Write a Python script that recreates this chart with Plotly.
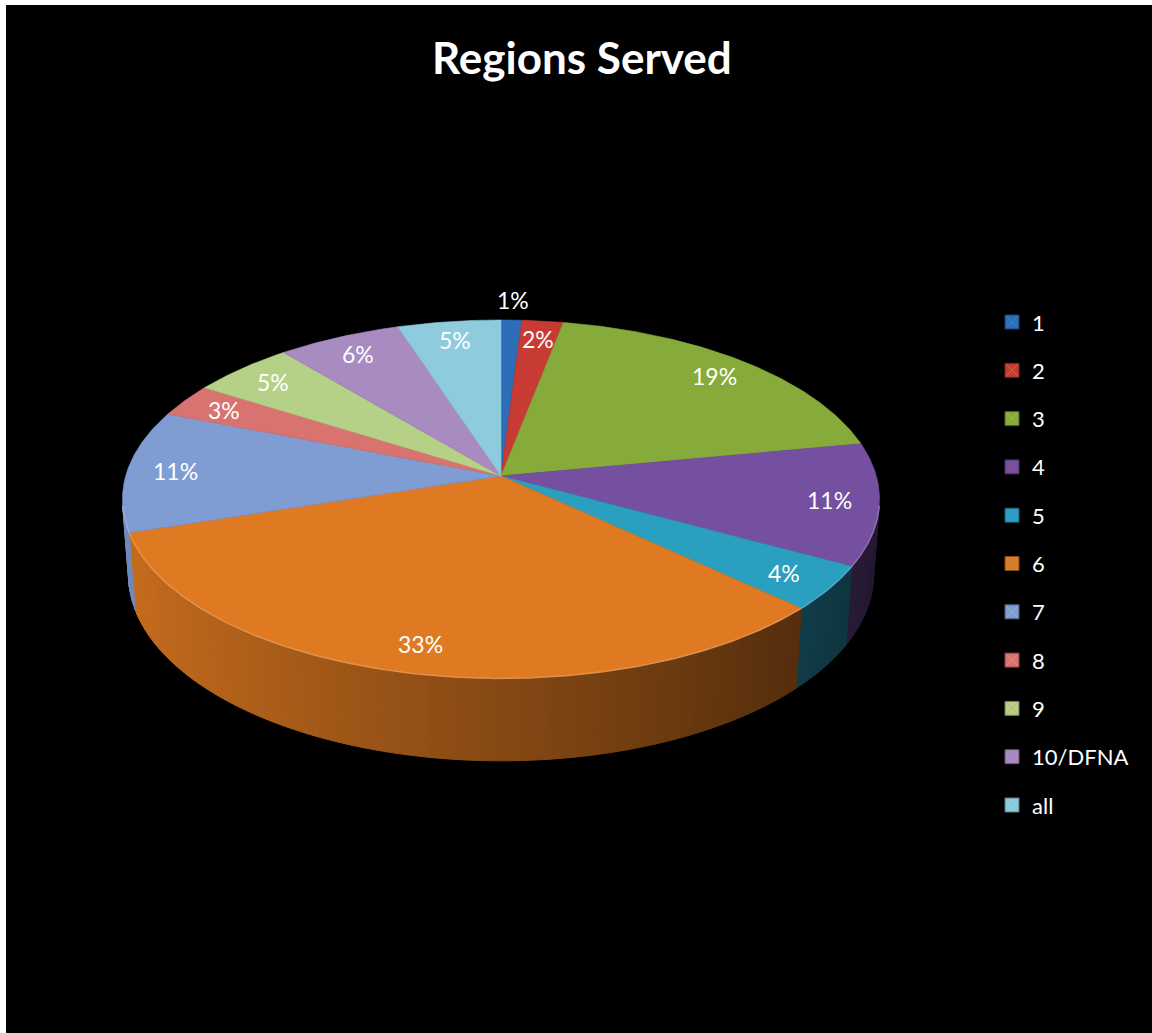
import math
import plotly.graph_objects as go

# ---- data ----
regions = ["1", "2", "3", "4", "5", "6", "7", "8", "9", "10/DFNA", "all"]
shares = [1, 2, 19, 11, 4, 33, 11, 3, 5, 6, 5]
top_colors = ["#2E6DB8", "#C83A34", "#86AB3A", "#7650A0", "#2B9FC0", "#E07A22",
              "#7F9CD3", "#D8736F", "#B5D187", "#A88BC0", "#8DCBDD"]
title_text = "Regions Served"

W, H = 1152, 1033

# ---- simple perspective camera for a tilted disc ----
tilt = math.radians(28.0)
S, C = math.sin(tilt), math.cos(tilt)
DIST = 6.82          # camera distance in disc radii
FOC = 2560.0         # focal length in pixels
CX, CY = 501.0, 476.0
THICK = 0.23         # pie thickness in disc radii


def project(X, Y, Z=0.0):
    xc = X
    yc = Y * S + Z * C
    zc = Y * C - Z * S + DIST
    return CX + FOC * xc / zc, CY - FOC * yc / zc


def rim(t_deg, r=1.0, z=0.0):
    t = math.radians(t_deg)
    return project(r * math.sin(t), r * math.cos(t), z)


def hex_rgb(h):
    h = h.lstrip("#")
    return tuple(int(h[i:i + 2], 16) for i in (0, 2, 4))


def shade(h, f):
    r, g, b = hex_rgb(h)
    return "rgb({},{},{})".format(*(max(0, min(255, int(v * f))) for v in (r, g, b)))


def tint(h, f):
    r, g, b = hex_rgb(h)
    return "rgb({},{},{})".format(*(int(v + (255 - v) * f) for v in (r, g, b)))


total = float(sum(shares))
bounds = [0.0]
for v in shares:
    bounds.append(bounds[-1] + 360.0 * v / total)

# side wall faces the camera where cos(t) < -1/(D cos(tilt))
vis_lim = math.degrees(math.acos(-1.0 / (DIST * C)))
vis_lo, vis_hi = vis_lim, 360.0 - vis_lim

fig = go.Figure()

# ---- side walls (front part only), shaded by facing direction ----
for i, col in enumerate(top_colors):
    a0, a1 = max(bounds[i], vis_lo), min(bounds[i + 1], vis_hi)
    if a1 <= a0:
        continue
    nseg = max(1, int(math.ceil((a1 - a0) / 1.5)))
    for k in range(nseg):
        t0 = a0 + (a1 - a0) * k / nseg
        t1 = a0 + (a1 - a0) * (k + 1) / nseg
        tm = math.radians((t0 + t1) / 2)
        f = 0.6 - 0.3 * math.sin(tm)
        c = shade(col, f)
        p = [rim(t0), rim(t1), rim(t1, z=-THICK), rim(t0, z=-THICK)]
        fig.add_trace(go.Scatter(
            x=[q[0] for q in p] + [p[0][0]], y=[q[1] for q in p] + [p[0][1]],
            mode="lines", fill="toself", fillcolor=c,
            line=dict(color=c, width=1), hoverinfo="skip", showlegend=False))

# ---- top faces ----
for i, col in enumerate(top_colors):
    a0, a1 = bounds[i], bounds[i + 1]
    n = max(2, int((a1 - a0) / 0.5))
    pts = [project(0, 0)] + [rim(a0 + (a1 - a0) * k / n) for k in range(n + 1)] + [project(0, 0)]
    fig.add_trace(go.Scatter(
        x=[p[0] for p in pts], y=[p[1] for p in pts],
        mode="lines", fill="toself", fillcolor=col,
        line=dict(color=col, width=0.6), hoverinfo="text",
        text=f"{regions[i]}: {shares[i]}%", showlegend=False))

# light highlight along the front rim edge
for i, col in enumerate(top_colors):
    a0, a1 = max(bounds[i], vis_lo), min(bounds[i + 1], vis_hi)
    if a1 <= a0:
        continue
    n = max(2, int((a1 - a0) / 0.5))
    pts = [rim(a0 + (a1 - a0) * k / n) for k in range(n + 1)]
    fig.add_trace(go.Scatter(
        x=[p[0] for p in pts], y=[p[1] for p in pts], mode="lines",
        line=dict(color=tint(col, 0.3), width=1.5), opacity=0.7,
        hoverinfo="skip", showlegend=False))

# ---- percentage labels ----
annotations = []
for i, v in enumerate(shares):
    mid = (bounds[i] + bounds[i + 1]) / 2
    r = 1.15 if v / total < 0.015 else 0.87
    lx, ly = rim(mid, r=r)
    annotations.append(dict(
        x=lx, y=ly, xref="x", yref="y", text=f"{round(100 * v / total)}%",
        showarrow=False, font=dict(family="Lato, Open Sans, sans-serif", size=23, color="white"),
        xanchor="center", yanchor="middle"))

# ---- legend ----
leg_x, leg_y0, leg_dy = 1012, 322, 48.3
for i, name in enumerate(regions):
    y = leg_y0 + i * leg_dy
    fig.add_trace(go.Scatter(
        x=[leg_x], y=[y], mode="markers",
        marker=dict(symbol="square", size=14, color=top_colors[i],
                    line=dict(color=shade(top_colors[i], 0.6), width=1)),
        hoverinfo="skip", showlegend=False))
    fig.add_trace(go.Scatter(
        x=[leg_x], y=[y], mode="markers",
        marker=dict(symbol="x-thin-open", size=11,
                    line=dict(color=tint(top_colors[i], 0.5), width=1)),
        opacity=0.3, hoverinfo="skip", showlegend=False))
    annotations.append(dict(
        x=leg_x + 18, y=y, xref="x", yref="y", text=name, showarrow=False,
        font=dict(family="Lato, Open Sans, sans-serif", size=22, color="white"),
        xanchor="left", yanchor="middle"))

annotations.append(dict(
    x=582, y=57, xref="x", yref="y", text=f"<b>{title_text}</b>", showarrow=False,
    font=dict(family="Lato, Open Sans, sans-serif", size=44, color="white"),
    xanchor="center", yanchor="middle"))

fig.update_layout(
    width=W, height=H, margin=dict(l=0, r=0, t=0, b=0),
    paper_bgcolor="black", plot_bgcolor="black",
    xaxis=dict(range=[0, W], visible=False, fixedrange=True),
    yaxis=dict(range=[H, 0], visible=False, fixedrange=True),
    annotations=annotations,
    shapes=[
        dict(type="rect", xref="x", yref="y", x0=0, x1=W, y0=0, y1=5,
             fillcolor="white", line=dict(width=0), layer="below"),
        dict(type="rect", xref="x", yref="y", x0=0, x1=6, y0=0, y1=H,
             fillcolor="white", line=dict(width=0), layer="below"),
    ],
    showlegend=False,
)

fig.write_html("out.html")
